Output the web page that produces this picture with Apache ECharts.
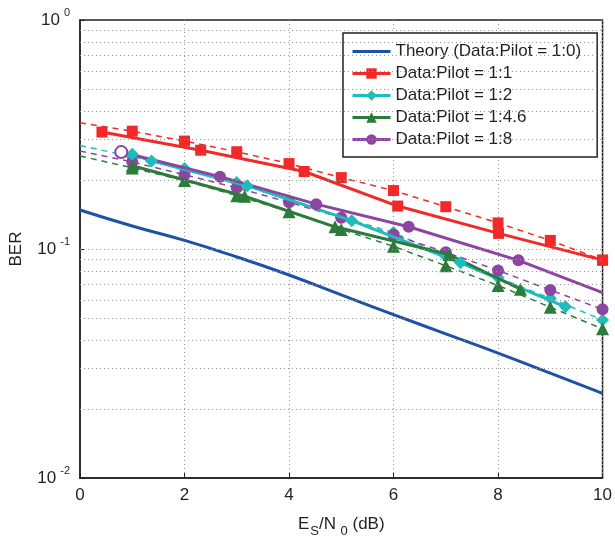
<!DOCTYPE html>
<html>
<head>
<meta charset="utf-8">
<script src="https://cdn.jsdelivr.net/npm/echarts@6/dist/echarts.min.js"></script>
<style>
  html, body { margin: 0; padding: 0; background: #fff; }
  #echarts1 { width: 615px; height: 543px; }
</style>
</head>
<body>
<div id="echarts1"></div>
<script>
// Es/N0 grid for theory and dashed curves
const snrInt = [0, 1, 2, 3, 4, 5, 6, 7, 8, 9, 10];
const theoryBer = [0.148, 0.126, 0.109, 0.0923, 0.077, 0.063, 0.0517, 0.0426, 0.0351, 0.0287, 0.0234];

// dashed curves (markers from 1 dB on)
const ref11 = [0.356, 0.327, 0.296, 0.266, 0.236, 0.205, 0.180, 0.153, 0.130, 0.109, 0.0894];
const ref12 = [0.283, 0.253, 0.2245, 0.195, 0.163, 0.138, 0.118, 0.093, 0.075, 0.0609, 0.049];
const ref146 = [0.255, 0.226, 0.199, 0.171, 0.1453, 0.1217, 0.1027, 0.0845, 0.0693, 0.0557, 0.0448];
const ref18 = [0.268, 0.240, 0.211, 0.185, 0.160, 0.137, 0.1153, 0.0968, 0.0806, 0.0662, 0.0545];

// solid curves
const snr11 = [0.42, 2.31, 4.29, 6.08, 8.01, 10];
const ber11 = [0.324, 0.270, 0.218, 0.154, 0.117, 0.0894];
const snr12 = [1.0, 1.37, 3.2, 5.2, 7.28, 9.29];
const ber12 = [0.259, 0.2425, 0.189, 0.133, 0.087, 0.0559];
const snr146 = [1.0, 3.15, 4.88, 7.06, 8.43];
const ber146 = [0.231, 0.170, 0.125, 0.0946, 0.0667];
const snr18 = [0.79, 2.68, 4.52, 6.29, 8.39, 10];
const ber18 = [0.265, 0.207, 0.157, 0.125, 0.0892, 0.0645];

// horizontal dotted grid values
const gridY = [0.02, 0.03, 0.04, 0.05, 0.06, 0.07, 0.08, 0.09, 0.1, 0.2, 0.3, 0.4, 0.5, 0.6, 0.7, 0.8, 0.9];

const names = ['Theory (Data:Pilot = 1:0)', 'Data:Pilot = 1:1', 'Data:Pilot = 1:2', 'Data:Pilot = 1:4.6', 'Data:Pilot = 1:8'];
const colors = ['#1f52a5', '#f02a2a', '#1fbcbc', '#2c7b3c', '#8c45a1'];
const symbols = ['none', 'rect', 'diamond', 'triangle', 'circle'];
const symSizes = [0, 11, 13, 13, 12];

function zip (xs, ys) {
    return xs.map(function (x, i) { return [x, ys[i]]; });
}

function solidSeries (i, xs, ys, hollowFirst, noLastMark) {
    var data = zip(xs, ys).map(function (p, k) {
        var d = { value: p };
        if (k === 0 && hollowFirst) d.symbol = 'emptyCircle';
        if (k === xs.length - 1 && noLastMark) d.symbol = 'none';
        return d;
    });
    return {
        name: names[i], type: 'line', data: data, z: 4,
        symbol: symbols[i], symbolSize: symSizes[i], showSymbol: true,
        itemStyle: { color: colors[i] },
        lineStyle: { color: colors[i], width: 3 }
    };
}

function dashedSeries (i, ys) {
    var data = zip(snrInt, ys).map(function (p, k) {
        return k === 0 ? { value: p, symbol: 'none' } : { value: p };
    });
    return {
        name: 'ref' + i, type: 'line', data: data, z: 3,
        symbol: symbols[i], symbolSize: symSizes[i],
        itemStyle: { color: colors[i] },
        lineStyle: { color: colors[i], width: 1.5, type: [6, 5] }
    };
}

var legendData = names.map(function (n, i) {
    return i === 0 ? { name: n, itemStyle: { opacity: 0 } } : { name: n };
});

var option = {
    animation: false,
    textStyle: { fontFamily: 'Liberation Sans, Arial, sans-serif', color: '#231f20' },
    grid: { left: 79, right: 9, top: 20, bottom: 58, show: true, borderColor: '#222', borderWidth: 1.5 },
    legend: {
        data: legendData, orient: 'vertical', left: 343, top: 33,
        itemWidth: 38, itemHeight: 13, itemGap: 5,
        padding: [10, 16, 9, 8],
        borderColor: '#222', borderWidth: 1.5, backgroundColor: '#fff',
        lineStyle: { width: 3 },
        textStyle: { fontSize: 17, color: '#231f20' }
    },
    xAxis: {
        type: 'value', min: 0, max: 10, interval: 2,
        name: 'E{s|S}/N{s| 0} (dB)', nameLocation: 'middle', nameGap: 33,
        nameTextStyle: { fontSize: 17, color: '#231f20', rich: { s: { fontSize: 13, padding: [14, 0, 0, 1] } } },
        axisLine: { lineStyle: { color: '#222', width: 1.5 } },
        axisTick: { inside: true, length: 5, lineStyle: { color: '#222' } },
        axisLabel: { fontSize: 17, color: '#231f20', margin: 9 },
        splitLine: { show: true, lineStyle: { color: '#999', type: [1, 3], width: 1 } }
    },
    yAxis: {
        type: 'log', logBase: 10, min: 0.01, max: 1,
        name: 'BER', nameLocation: 'middle', nameGap: 55,
        nameTextStyle: { fontSize: 17, color: '#231f20' },
        axisLine: { lineStyle: { color: '#222', width: 1.5 } },
        axisTick: { inside: true, length: 5, lineStyle: { color: '#222' } },
        axisLabel: {
            margin: 10, color: '#231f20',
            formatter: function (v) {
                return '{b|10}{e|' + Math.round(Math.log10(v)) + '}';
            },
            rich: { b: { fontSize: 17 }, e: { fontSize: 11, padding: [0, 0, 14, 4] } }
        },
        splitLine: { show: false }
    },
    series: [
        {
            name: 'grid', type: 'line', data: [], z: 1, silent: true,
            markLine: {
                silent: true, symbol: 'none', label: { show: false },
                lineStyle: { color: '#999', type: [1, 3], width: 1 },
                data: gridY.map(function (v) { return { yAxis: v }; })
            }
        },
        {
            name: names[0], type: 'line', data: zip(snrInt, theoryBer), z: 4,
            symbol: 'none', smooth: true,
            itemStyle: { color: colors[0] },
            lineStyle: { color: colors[0], width: 3 }
        },
        dashedSeries(1, ref11),
        dashedSeries(2, ref12),
        dashedSeries(3, ref146),
        dashedSeries(4, ref18),
        solidSeries(1, snr11, ber11, false, false),
        solidSeries(2, snr12, ber12, false, false),
        solidSeries(3, snr146, ber146, false, false),
        solidSeries(4, snr18, ber18, true, true)
    ]
};

//初始化echarts实例
var myChart = echarts.init(document.getElementById('echarts1'));
myChart.setOption(option);
</script>
</body>
</html>
